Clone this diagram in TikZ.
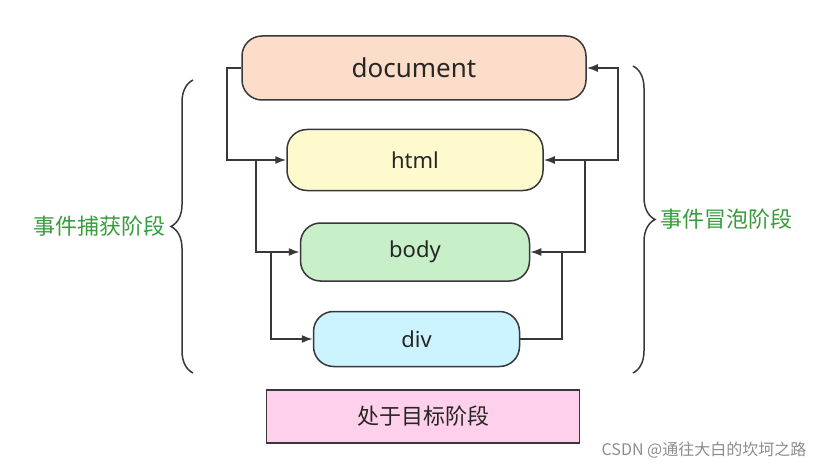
\documentclass[tikz,border=0pt]{standalone}
\usepackage{fontspec}
\setmainfont{Noto Sans}
\newfontfamily\cjk{Noto Sans CJK SC}
\usetikzlibrary{arrows.meta,positioning,decorations.pathreplacing}

\definecolor{docfill}{RGB}{252,221,202}
\definecolor{htmlfill}{RGB}{255,249,206}
\definecolor{bodyfill}{RGB}{200,240,200}
\definecolor{divfill}{RGB}{204,244,255}
\definecolor{targetfill}{RGB}{255,208,236}
\definecolor{linegray}{RGB}{55,55,60}
\definecolor{phasegreen}{RGB}{56,156,60}

\begin{document}
\begin{tikzpicture}[
  x=1pt,y=1pt,
  domnode/.style={draw=linegray,line width=1.5pt,rounded corners=20pt,fill=#1,
                  inner sep=0pt,text=black!85,font=\fontsize{22}{26}\selectfont},
  arr/.style={-{Latex[length=11pt,width=8pt]},line width=1.7pt,draw=linegray},
  phasebrace/.style={decorate,decoration={brace,amplitude=22pt},line width=1.5pt,draw=linegray},
  phase/.style={font=\cjk\fontsize{22}{26}\selectfont,text=phasegreen,inner sep=0pt}
]
\useasboundingbox (0,0) rectangle (828,467);

\node[domnode=docfill,minimum width=344pt,minimum height=64pt,
      font=\fontsize{26}{30}\selectfont] (doc) at (414,399) {document};
\node[domnode=htmlfill,minimum width=256pt,minimum height=61pt,below=28pt of doc,xshift=1pt] (html) {html};
\node[domnode=bodyfill,minimum width=229pt,minimum height=58pt,below=31pt of html] (body) {body};
\node[domnode=divfill,minimum width=206pt,minimum height=55pt,below=29pt of body,xshift=1.5pt] (div) {div};
\node[draw=linegray,line width=1.5pt,fill=targetfill,minimum width=313pt,minimum height=53pt,
      text=black!85,font=\cjk\fontsize{22}{26}\selectfont,below=22pt of div,xshift=6.5pt] (target) {处于目标阶段};

% capture, going down on the left
\draw[arr] (doc.west) -- ++(-14,0) |- (html.west);
\draw[arr] ([xshift=-30pt]html.west) |- (body.west);
\draw[arr] ([xshift=-29pt]body.west) |- (div.west);

% bubbling, going up on the right
\draw[arr] (div.east) -| ([xshift=32pt]body.east) -- (body.east);
\draw[arr] ([xshift=32pt]body.east) -- ([xshift=55pt]body.east) |- (html.east);
\draw[arr] ([xshift=41pt]html.east) -- ([xshift=74pt]html.east) |- (doc.east);

% phases
\draw[phasebrace] (193,94) -- (193,387)
  node[midway,left=27pt,phase] (capture) {事件捕获阶段};
\draw[phasebrace] (633,401) -- (633,94)
  node[midway,right=27pt,phase] (bubble) {事件冒泡阶段};

\node[font=\cjk\fontsize{16}{18}\selectfont,text=black!45] (mark) at (704,17) {CSDN @通往大白的坎坷之路};
\end{tikzpicture}
\end{document}
